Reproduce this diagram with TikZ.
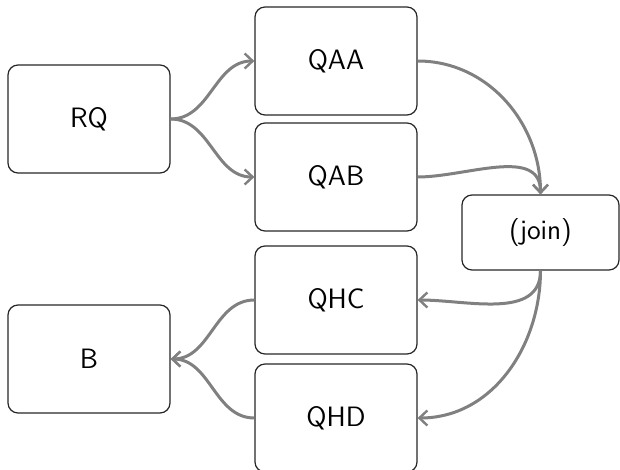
\documentclass[tikz,border=0pt]{standalone}
\usetikzlibrary{arrows.meta}
\begin{document}
\begin{tikzpicture}[x=0.5pt,y=-0.5pt,
  box/.style={draw=black!85,line width=0.6pt,rounded corners=5pt,
    minimum width=81pt,minimum height=54pt,inner sep=0pt,
    font=\sffamily\fontsize{14}{17}\selectfont},
  flow/.style={draw=black!50,line width=1.5pt,
    -{Straight Barb[length=4pt,width=7.5pt,line width=1.2pt]}}]
\clip (0,0) rectangle (620,470);
\useasboundingbox (0,0) rectangle (620,470);
% query boxes
\node[box] (rq) at (89,119) {RQ};
\node[box] (qaa) at (336,61) {QAA};
\node[box] (qab) at (336,177) {QAB};
\node[box,minimum width=78.5pt,minimum height=37.5pt] (join) at (540.5,232.5) {(join)};
\node[box] (qhc) at (336,300) {QHC};
\node[box] (qhd) at (336,418) {QHD};
\node[box] (b) at (89,359) {B};
% connectors
\draw[flow] (rq.east) to[out=0,in=180] (qaa.west);
\draw[flow] (rq.east) to[out=0,in=180] (qab.west);
\draw[flow] (qaa.east) to[out=0,in=90] (join.north);
\draw[flow] (qab.east) to[out=0,in=90] (join.north);
\draw[flow] (join.south) to[out=-90,in=0] (qhc.east);
\draw[flow] (join.south) to[out=-90,in=0] (qhd.east);
\draw[flow] (qhc.west) to[out=180,in=0] (b.east);
\draw[flow] (qhd.west) to[out=180,in=0] (b.east);
\end{tikzpicture}
\end{document}
